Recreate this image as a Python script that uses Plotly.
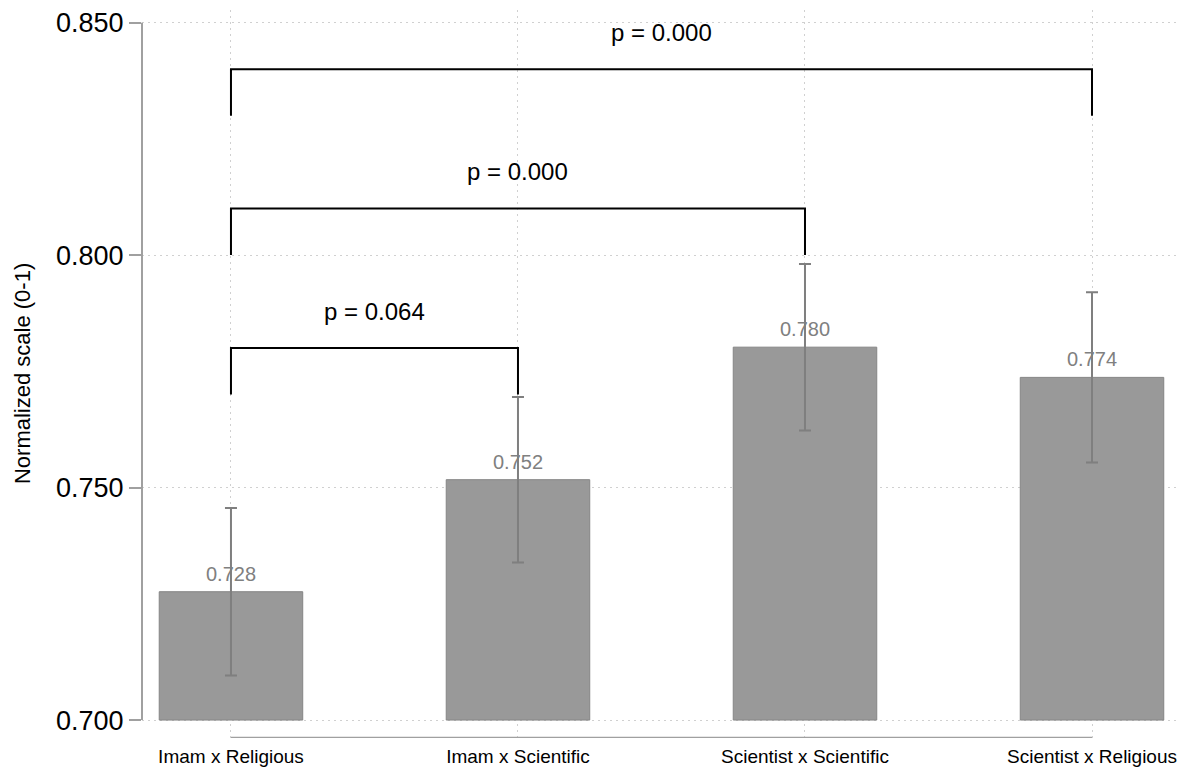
import plotly.graph_objects as go

categories = ["Imam x Religious", "Imam x Scientific", "Scientist x Scientific", "Scientist x Religious"]
means = [0.7276, 0.7517, 0.7802, 0.7737]
errors = [0.0180, 0.0178, 0.0179, 0.0183]
baseline = 0.700

# comparison brackets: (from index, to index, bracket top, leg bottom, label)
brackets = [
    (0, 1, 0.780, 0.770, "p = 0.064"),
    (0, 2, 0.810, 0.800, "p = 0.000"),
    (0, 3, 0.840, 0.830, "p = 0.000"),
]

yticks = [0.700, 0.750, 0.800, 0.850]

FONT = "Liberation Sans, Arial, sans-serif"

xs = list(range(len(categories)))

fig = go.Figure()
fig.add_bar(
    x=xs,
    y=[m - baseline for m in means],
    base=baseline,
    width=0.5,
    marker=dict(color="#999999", line=dict(color="#858585", width=1)),
    error_y=dict(type="data", array=errors, visible=True, color="#7f7f7f", thickness=2, width=6),
    showlegend=False,
    hoverinfo="skip",
)

annotations = []
for x, m in zip(xs, means):
    annotations.append(dict(x=x, y=m, xref="x", yref="y", text=f"{m:.3f}", showarrow=False,
                            yanchor="bottom", yshift=5,
                            font=dict(family=FONT, size=20, color="#808080")))

shapes = []
for a, b, top, leg, label in brackets:
    shapes.append(dict(type="path", xref="x", yref="y",
                       path=f"M {a},{leg} L {a},{top} L {b},{top} L {b},{leg}",
                       line=dict(color="black", width=2)))
    annotations.append(dict(x=(a + b) / 2, y=top + 0.0079, xref="x", yref="y", text=label,
                            showarrow=False, yanchor="middle",
                            font=dict(family=FONT, size=24, color="black")))

# y axis line (only between first and last tick)
shapes.append(dict(type="line", xref="paper", yref="y", x0=0, x1=0, y0=yticks[0], y1=yticks[-1],
                   line=dict(color="#a0a0a0", width=2)))
# x axis line (only between first and last category)
shapes.append(dict(type="line", xref="x", yref="y", x0=xs[0], x1=xs[-1], y0=0.6962, y1=0.6962,
                   line=dict(color="#a0a0a0", width=2)))

annotations.append(dict(x=-0.1149, y=0.5, xref="paper", yref="paper", text="Normalized scale (0-1)",
                        textangle=-90, showarrow=False, xanchor="center", yanchor="middle",
                        font=dict(family=FONT, size=22, color="black")))

fig.update_layout(
    width=1178, height=767,
    margin=dict(l=134, r=0, t=0, b=37),
    paper_bgcolor="white", plot_bgcolor="white",
    font=dict(family=FONT, color="black"),
    shapes=shapes, annotations=annotations,
    xaxis=dict(range=[-0.31, 3.3275], tickmode="array", tickvals=xs, ticktext=categories,
               showgrid=True, gridcolor="#d0d0d0", gridwidth=1, griddash="2px,4px",
               showline=False, zeroline=False, ticks="outside", ticklen=1,
               tickcolor="rgba(0,0,0,0)", tickfont=dict(size=19, family=FONT)),
    yaxis=dict(range=[0.69614, 0.85272], tickmode="array", tickvals=yticks,
               ticktext=[f"{v:.3f}" for v in yticks],
               showgrid=True, gridcolor="#d0d0d0", gridwidth=1, griddash="2px,4px",
               showline=False, zeroline=False, ticks="outside", ticklen=12, tickwidth=2,
               tickcolor="#a0a0a0", tickfont=dict(size=27, family=FONT),
               ticklabeloverflow="allow"),
)

fig.write_html("out.html")
